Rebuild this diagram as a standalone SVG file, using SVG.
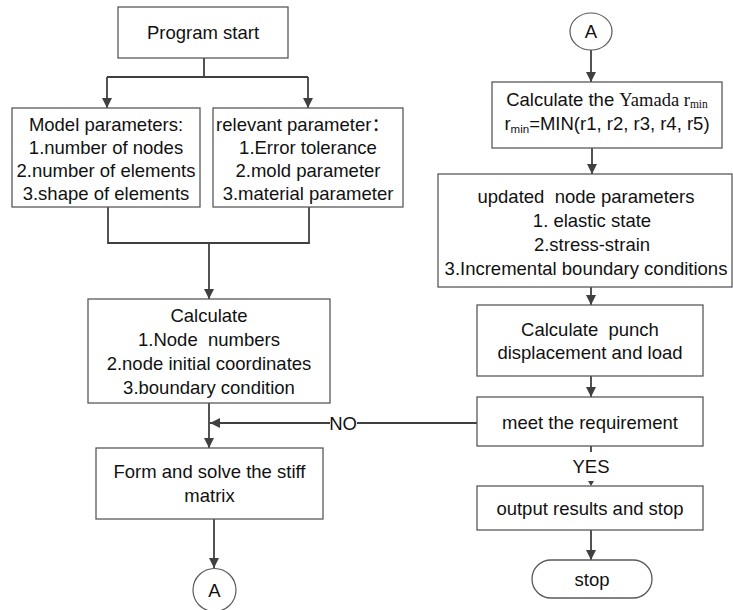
<svg xmlns="http://www.w3.org/2000/svg" width="733" height="610" viewBox="0 0 733 610">
<style>
.box{fill:#fff;stroke:#595959;stroke-width:1.3}
.t{font-family:"Liberation Sans","Noto Sans CJK SC",sans-serif;font-size:18.5px;fill:#111;text-anchor:middle}
.serif{font-family:"Liberation Serif",serif}
.c{fill:none;stroke:#404040;stroke-width:1.8}
.ca{fill:none;stroke:#404040;stroke-width:1.8;marker-end:url(#arr)}
</style>
<defs>
<marker id="arr" viewBox="0 0 10 10" refX="10" refY="5" markerWidth="10" markerHeight="10" markerUnits="userSpaceOnUse" orient="auto">
<path d="M0,0 L10,5 L0,10 z" fill="#404040"/>
</marker>
</defs>
<rect width="733" height="610" fill="#fff"/>
<g id="connectors">
<path class="c" d="M204,58 V77 M107,77 H308"/>
<path class="ca" d="M107,77 V108"/>
<path class="ca" d="M308,77 V108"/>
<path class="c" d="M108,207 V243 H309 V207"/>
<path class="ca" d="M209,243 V299"/>
<path class="ca" d="M209,403 V448"/>
<path class="c" d="M477,423 H357"/>
<path class="ca" d="M330,423 H210"/>
<text class="t" x="343" y="429.5">NO</text>
<path class="ca" d="M214,519 V568"/>
<path class="ca" d="M591,50 V82"/>
<path class="ca" d="M592,148 V174"/>
<path class="ca" d="M591,287 V305"/>
<path class="ca" d="M591,376 V397"/>
<path class="c" d="M591,446 V452" stroke-width="1.3"/>
<text class="t" x="591" y="473">YES</text>
<path d="M588,481 L594,481 L591,486 z" fill="#404040"/>
<path class="ca" d="M591,530 V560"/>
</g>
<g id="start">
<rect class="box" x="118" y="7" width="170" height="51"/>
<text class="t" x="203" y="39">Program start</text>
</g>
<g id="model">
<rect class="box" x="12" y="108" width="188" height="99"/>
<text class="t" x="106" y="131">Model parameters:</text>
<text class="t" x="106" y="154">1.number of nodes</text>
<text class="t" x="106" y="177">2.number of elements</text>
<text class="t" x="106" y="200">3.shape of elements</text>
</g>
<g id="relevant">
<rect class="box" x="213" y="108" width="190" height="99"/>
<text class="t" x="303" y="131">relevant parameter：</text>
<text class="t" x="308" y="154">1.Error tolerance</text>
<text class="t" x="308" y="177">2.mold parameter</text>
<text class="t" x="308" y="200">3.material parameter</text>
</g>
<g id="calculate">
<rect class="box" x="88" y="299" width="242" height="104"/>
<text class="t" x="209" y="322">Calculate</text>
<text class="t" x="209" y="346" xml:space="preserve">1.Node  numbers</text>
<text class="t" x="209" y="370">2.node initial coordinates</text>
<text class="t" x="209" y="394">3.boundary condition</text>
</g>
<g id="form">
<rect class="box" x="96" y="448" width="227" height="71"/>
<text class="t" x="209.5" y="478">Form and solve the stiff</text>
<text class="t" x="209.5" y="502">matrix</text>
</g>
<g id="connA-bottom">
<circle cx="214.5" cy="590" r="21.5" fill="#fff" stroke="#595959" stroke-width="1.2"/>
<text class="t" x="214.5" y="597">A</text>
</g>
<g id="connA-top">
<ellipse cx="591" cy="31.5" rx="21" ry="18.5" fill="#fff" stroke="#595959" stroke-width="1.2"/>
<text class="t" x="591" y="38">A</text>
</g>
<g id="yamada">
<rect class="box" x="492" y="82" width="230" height="66"/>
<text class="t" x="607" y="106">Calculate the <tspan class="serif">Yamada r</tspan><tspan class="serif" font-size="11.5" dy="2">min</tspan></text>
<text class="t" x="607" y="130">r<tspan font-size="11.5" dy="2.5">min</tspan><tspan dy="-2.5">=MIN(r1, r2, r3, r4, r5)</tspan></text>
</g>
<g id="update">
<rect class="box" x="438" y="174" width="294" height="113"/>
<text class="t" x="586" y="203" xml:space="preserve">updated  node parameters</text>
<text class="t" x="592" y="227">1. elastic state</text>
<text class="t" x="592" y="251">2.stress-strain</text>
<text class="t" x="586" y="275">3.Incremental boundary conditions</text>
</g>
<g id="punch">
<rect class="box" x="477" y="305" width="226" height="71"/>
<text class="t" x="590" y="336" xml:space="preserve">Calculate  punch</text>
<text class="t" x="590" y="359">displacement and load</text>
</g>
<g id="meet">
<rect class="box" x="477" y="397" width="226" height="49"/>
<text class="t" x="590" y="429">meet the requirement</text>
</g>
<g id="output">
<rect class="box" x="477" y="486" width="226" height="44"/>
<text class="t" x="590" y="515">output results and stop</text>
</g>
<g id="stop">
<rect class="box" x="532" y="560" width="120" height="38" rx="19" ry="19"/>
<text class="t" x="592" y="586">stop</text>
</g>
</svg>
